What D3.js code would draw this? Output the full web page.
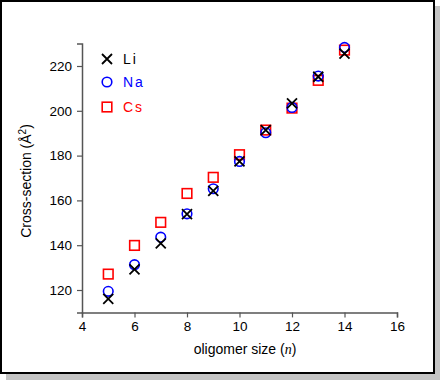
<!DOCTYPE html>
<html><head><meta charset="utf-8">
<script src="https://cdn.jsdelivr.net/npm/d3@7"></script>
<style>body{margin:0;background:#fff}svg{display:block}</style>
</head><body>
<svg id="c" width="440" height="380"></svg>
<script>
const sizes = [5,6,7,8,9,10,11,12,13,14];
const li = [116,129.2,140.8,153.9,164.3,177.4,191.4,203.3,215.2,225.5];
const na = [119.4,131.3,143.6,154,165.2,177.4,190.2,201.5,215.5,228.3];
const cs = [127.1,139.9,150.2,163.1,170.3,180.4,191.4,201.2,213.6,227.1];
const xTicks = [4,6,8,10,12,14,16];
const yTicks = [120,140,160,180,200,220];
const seriesNames = ["Li","Na","Cs"];
const seriesColors = ["#000000","#0000ff","#ff0000"];
const seriesShapes = ["cross","circle","square"];

const svg = d3.select("#c");
// frame with shadow
svg.append("rect").attr("x",6).attr("y",6).attr("width",434).attr("height",374).attr("fill","#c4c4c4");
svg.append("rect").attr("x",1).attr("y",1).attr("width",433).attr("height",372).attr("fill","#fff").attr("stroke","#000").attr("stroke-width",2);

const x = d3.scaleLinear().domain([4,16]).range([82,397]);
const y = d3.scaleLinear().domain([110,230]).range([312.4,43.6]);
const font = "Helvetica, Arial, 'Liberation Sans', sans-serif";

const gx = svg.append("g").attr("transform","translate(0,312.4)")
  .call(d3.axisBottom(x).tickValues(xTicks).tickSize(5).tickPadding(4).tickFormat(d3.format("d")));
const gy = svg.append("g").attr("transform","translate(82,0)")
  .call(d3.axisLeft(y).tickValues(yTicks).tickSize(5).tickPadding(5).tickFormat(d3.format("d")));
[gx,gy].forEach(g=>{
  g.select(".domain").attr("stroke","#555").attr("stroke-width",1.5);
  g.selectAll(".tick line").attr("stroke","#555").attr("stroke-width",1.2);
  g.selectAll("text").attr("font-family",font).attr("font-size",13.5).attr("fill","#000");
});

svg.append("text").attr("x",245).attr("y",354).attr("text-anchor","middle")
  .attr("font-family",font).attr("font-size",14)
  .html('oligomer size (<tspan font-family="Liberation Serif, Times New Roman, serif" font-style="italic">n</tspan>)');
svg.append("text").attr("transform","translate(31,181) rotate(-90)").attr("text-anchor","middle")
  .attr("font-family",font).attr("font-size",14)
  .html('Cross-section (Å<tspan baseline-shift="super" font-size="10">2</tspan>)');

function marker(g, shape, color, cx, cy){
  if(shape==="cross"){
    g.append("path").attr("d",`M${cx-5},${cy-5}L${cx+5},${cy+5}M${cx-5},${cy+5}L${cx+5},${cy-5}`)
      .attr("stroke",color).attr("stroke-width",1.8).attr("fill","none");
  } else if(shape==="circle"){
    g.append("circle").attr("cx",cx).attr("cy",cy).attr("r",4.8)
      .attr("stroke",color).attr("stroke-width",1.6).attr("fill","none");
  } else {
    g.append("rect").attr("x",cx-4.8).attr("y",cy-4.8).attr("width",9.6).attr("height",9.6)
      .attr("stroke",color).attr("stroke-width",1.6).attr("fill","none");
  }
}

const data = [li,na,cs];
const order = [2,1,0];
order.forEach(i=>{
  const g = svg.append("g");
  sizes.forEach((n,j)=>marker(g, seriesShapes[i], seriesColors[i], x(n), y(data[i][j])));
});

// legend
const legY = [59,82,107];
seriesNames.forEach((name,i)=>{
  const g = svg.append("g");
  marker(g, seriesShapes[i], seriesColors[i], 107, legY[i]);
  g.append("text").attr("x",123).attr("y",legY[i]+5).attr("font-family",font).attr("font-size",14)
    .attr("letter-spacing",2).attr("fill",seriesColors[i]).text(name);
});
</script>
</body></html>
